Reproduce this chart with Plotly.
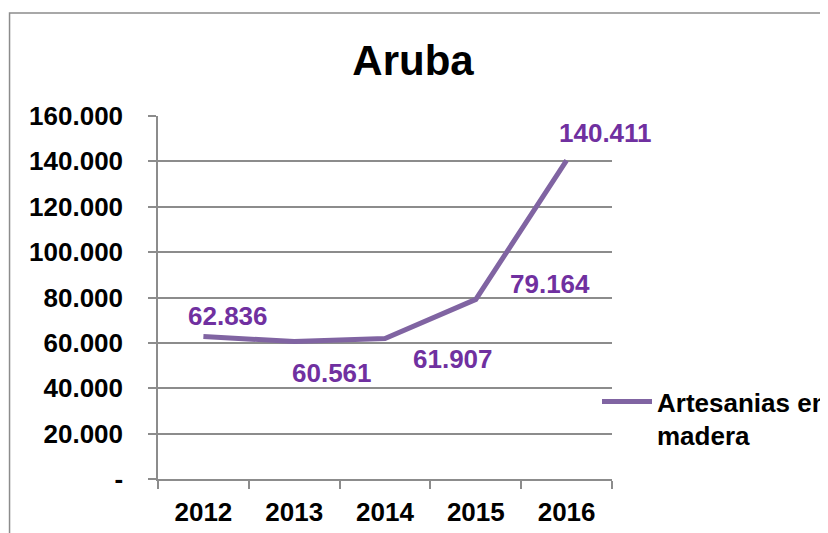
import plotly.graph_objects as go

years = ["2012", "2013", "2014", "2015", "2016"]
values = [62836, 60561, 61907, 79164, 140411]
value_labels = ["62.836", "60.561", "61.907", "79.164", "140.411"]
ytick_vals = [0, 20000, 40000, 60000, 80000, 100000, 120000, 140000, 160000]
ytick_text = ["-", "20.000", "40.000", "60.000", "80.000", "100.000", "120.000", "140.000", "160.000"]
series_name = "Artesanias en<br>madera"

# label offsets (px) mimicking the original placement
label_shift = [(25, 20), (38, -31), (68, -20), (74, 15), (39, 27)]

FONT = "Liberation Sans, Arial, sans-serif"
LINE = "#8064A2"
LBL = "#7030A0"

fig = go.Figure()
fig.add_trace(go.Scatter(
    x=years, y=values, mode="lines", name=series_name,
    line=dict(color=LINE, width=5),
    showlegend=True,
))

for i, (v, t, (dx, dy)) in enumerate(zip(values, value_labels, label_shift)):
    fig.add_annotation(x=i, y=v, text=t, showarrow=False,
                       xshift=dx, yshift=dy,
                       font=dict(family=FONT, size=26, color=LBL, weight="bold"))

fig.add_shape(type="rect", xref="paper", yref="paper",
              x0=-0.327, x1=2.0, y0=-1.0, y1=1.284,
              line=dict(color="#8c8c8c", width=1.5), layer="below")

fig.update_layout(
    width=828, height=533,
    margin=dict(l=150, r=224, t=108, b=62, autoexpand=False),
    paper_bgcolor="white", plot_bgcolor="white",
    title=dict(text="<b>Aruba</b>", x=405/828, xanchor="center",
               y=1 - 52/533, yanchor="middle",
               font=dict(family=FONT, size=42, color="black")),
    font=dict(family=FONT, color="black"),
    legend=dict(x=(589-150)/454, xanchor="left", y=(471-370)/363, yanchor="top",
                valign="top", font=dict(family=FONT, size=26, color="black", weight="bold"),
                bgcolor="rgba(0,0,0,0)", itemwidth=50),
    showlegend=True,
)
fig.update_xaxes(
    type="category", range=[-0.5, 4.5], autorange=False,
    showgrid=False, showline=True, linecolor="#8c8c8c", linewidth=1.5,
    ticks="outside", tickson="boundaries", ticklen=8, tickcolor="#8c8c8c", tickwidth=1.5,
    tickfont=dict(family=FONT, size=26, color="black", weight="bold"),
    ticklabelstandoff=9, tickangle=0,
)
fig.update_yaxes(
    range=[0, 160000], autorange=False, tickvals=ytick_vals, ticktext=ytick_text,
    showgrid=True, gridcolor="#8c8c8c", gridwidth=1.5,
    showline=True, linecolor="#8c8c8c", linewidth=1.5,
    ticks="outside", ticklen=8, tickcolor="#8c8c8c", tickwidth=1.5,
    tickfont=dict(family=FONT, size=26, color="black", weight="bold"),
    ticklabelstandoff=20, zeroline=False,
)

fig.write_html("out.html")
